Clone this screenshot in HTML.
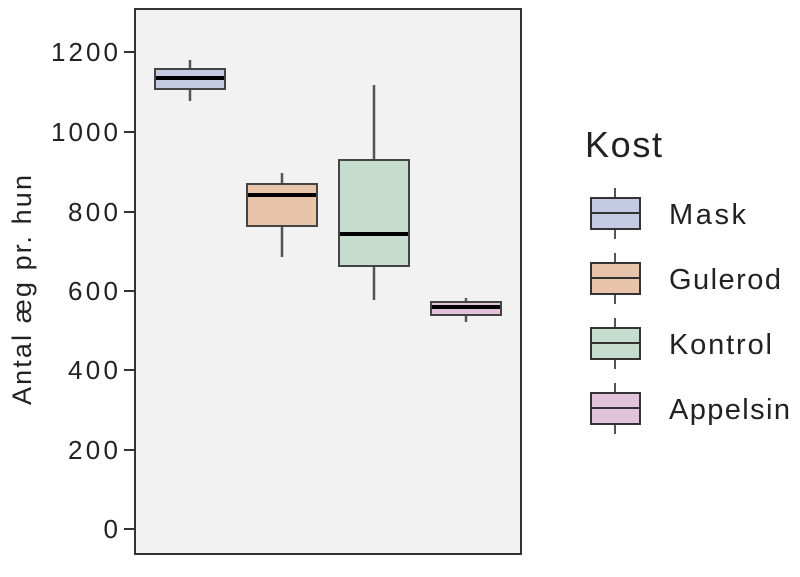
<!DOCTYPE html>
<html><head><meta charset="utf-8"><style>html,body{margin:0;padding:0;background:#fff}</style></head>
<body>
<svg width="800" height="572" xmlns="http://www.w3.org/2000/svg" font-family="Liberation Sans, sans-serif" fill="#222">
<rect x="135" y="9" width="386" height="545" fill="#f2f2f2" stroke="#333" stroke-width="2"/>
<g stroke="#333" stroke-width="2">
<line x1="124" y1="52" x2="135" y2="52"/><line x1="124" y1="132" x2="135" y2="132"/>
<line x1="124" y1="212" x2="135" y2="212"/><line x1="124" y1="291" x2="135" y2="291"/>
<line x1="124" y1="370" x2="135" y2="370"/><line x1="124" y1="450" x2="135" y2="450"/>
<line x1="124" y1="529" x2="135" y2="529"/>
</g>
<g font-size="26" text-anchor="end">
<text x="118" y="61" textLength="67">1200</text><text x="118" y="141" textLength="67">1000</text><text x="118" y="221" textLength="50">800</text>
<text x="118" y="300" textLength="50">600</text><text x="118" y="379" textLength="50">400</text><text x="118" y="459" textLength="50">200</text><text x="118" y="538">0</text>
</g>
<text transform="translate(31,290) rotate(-90)" font-size="27" text-anchor="middle" textLength="230">Antal æg pr. hun</text>
<g stroke="#555" stroke-width="2.5">
<line x1="190" y1="60" x2="190" y2="101"/>
<line x1="282" y1="173" x2="282" y2="257"/>
<line x1="374" y1="85" x2="374" y2="300"/>
<line x1="466" y1="298" x2="466" y2="322"/>
</g>
<g stroke="#444" stroke-width="2">
<rect x="155" y="69" width="70" height="20" fill="#c5cae3"/>
<rect x="247" y="184" width="70" height="42" fill="#e8c4ab"/>
<rect x="339" y="160" width="70" height="106" fill="#c6dccf"/>
<rect x="431" y="302" width="70" height="13" fill="#e3c3dc"/>
</g>
<g stroke="#000" stroke-width="4">
<line x1="156" y1="78" x2="224" y2="78"/>
<line x1="248" y1="195" x2="316" y2="195"/>
<line x1="340" y1="234" x2="408" y2="234"/>
<line x1="432" y1="307" x2="500" y2="307"/>
</g>
<text x="585" y="157" font-size="36" textLength="77">Kost</text>
<g stroke="#555" stroke-width="2">
<line x1="615" y1="188" x2="615" y2="239"/><line x1="615" y1="253" x2="615" y2="304"/>
<line x1="615" y1="318" x2="615" y2="369"/><line x1="615" y1="383" x2="615" y2="434"/>
</g>
<g stroke="#333" stroke-width="2">
<rect x="591" y="198" width="49" height="31" fill="#c5cae3"/><line x1="591" y1="213" x2="640" y2="213"/>
<rect x="591" y="263" width="49" height="31" fill="#e8c4ab"/><line x1="591" y1="278" x2="640" y2="278"/>
<rect x="591" y="328" width="49" height="31" fill="#c6dccf"/><line x1="591" y1="343" x2="640" y2="343"/>
<rect x="591" y="393" width="49" height="31" fill="#e3c3dc"/><line x1="591" y1="408" x2="640" y2="408"/>
</g>
<g font-size="29">
<text x="669" y="224" textLength="77">Mask</text><text x="669" y="289" textLength="112">Gulerod</text>
<text x="669" y="354" textLength="103">Kontrol</text><text x="669" y="419" textLength="121">Appelsin</text>
</g>
</svg>
</body></html>
